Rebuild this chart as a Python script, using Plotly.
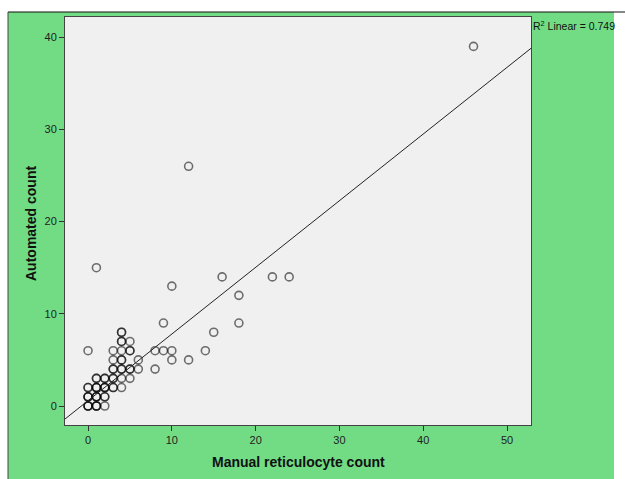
import plotly.graph_objects as go

# Data (duplicates reproduce the darker, overlapping circles)
manual_count = [
    0, 0, 0, 1, 1, 1, 2,
    0, 0, 0, 1, 1, 1, 2, 2,
    0, 0, 1, 1, 1, 2, 2, 2, 3, 3, 4,
    1, 1, 2, 2, 3, 3, 4, 5,
    3, 3, 4, 4, 5, 5, 6, 8,
    3, 4, 4, 6, 10, 12,
    0, 3, 4, 5, 5, 8, 9, 10, 14,
    4, 4, 5,
    4, 4, 15,
    9, 18,
    18,
    10,
    16, 22, 24,
    1,
    12,
    46,
]
automated_count = [
    0, 0, 0, 0, 0, 0, 0,
    1, 1, 1, 1, 1, 1, 1, 1,
    2, 2, 2, 2, 2, 2, 2, 2, 2, 2, 2,
    3, 3, 3, 3, 3, 3, 3, 3,
    4, 4, 4, 4, 4, 4, 4, 4,
    5, 5, 5, 5, 5, 5,
    6, 6, 6, 6, 6, 6, 6, 6, 6,
    7, 7, 7,
    8, 8, 8,
    9, 9,
    12,
    13,
    14, 14, 14,
    15,
    26,
    39,
]
fit_intercept = 0.578
fit_slope = 0.723
r_squared = 0.749

x_tick_vals = [0, 10, 20, 30, 40, 50]
y_tick_vals = [0, 10, 20, 30, 40]
x_range = [-2.75, 52.86]
y_range = [-2.06, 42.19]

fit_x = x_range
fit_y = [fit_intercept + fit_slope * v for v in fit_x]

green = "#71DC84"

fig = go.Figure()
fig.add_trace(go.Scatter(
    x=manual_count, y=automated_count, mode="markers",
    marker=dict(symbol="circle-open", size=8, color="black", opacity=0.55,
                line=dict(width=1.6, color="black")),
    showlegend=False, hoverinfo="x+y",
))
fig.add_trace(go.Scatter(
    x=fit_x, y=fit_y, mode="lines",
    line=dict(color="#222222", width=1), showlegend=False, hoverinfo="skip",
))

W, H = 625, 479
L, R, T, B = 65, 531, 17, 425

def px_x(p):
    return (p - L) / (R - L)

def px_y(p):
    return (B - p) / (B - T)

shapes = [
    # white surroundings outside the green panel
    dict(type="rect", xref="paper", yref="paper", x0=px_x(-20), x1=px_x(W + 20),
         y0=px_y(12), y1=px_y(-20), fillcolor="white", line=dict(width=0), layer="below"),
    dict(type="rect", xref="paper", yref="paper", x0=px_x(614), x1=px_x(W + 20),
         y0=px_y(12), y1=px_y(H + 20), fillcolor="white", line=dict(width=0), layer="below"),
    dict(type="rect", xref="paper", yref="paper", x0=px_x(-20), x1=px_x(8),
         y0=px_y(12), y1=px_y(H + 20), fillcolor="white", line=dict(width=0), layer="below"),
    # border lines of the panel
    dict(type="line", xref="paper", yref="paper", x0=px_x(8), x1=px_x(W),
         y0=px_y(12), y1=px_y(12), line=dict(color="#111111", width=1)),
    dict(type="line", xref="paper", yref="paper", x0=px_x(8), x1=px_x(8),
         y0=px_y(12), y1=px_y(H + 5), line=dict(color="#444444", width=1)),
]

fig.update_layout(
    width=W, height=H,
    margin=dict(l=L, r=W - R, t=T, b=H - B),
    paper_bgcolor=green, plot_bgcolor="#F0F0F0",
    font=dict(family="Arial, Liberation Sans, sans-serif", size=11, color="#222222"),
    shapes=shapes,
    xaxis=dict(range=x_range, tickvals=x_tick_vals, ticks="outside", ticklen=5,
               tickcolor="#333333", showgrid=False, zeroline=False, showline=True,
               linecolor="#444444", linewidth=1, mirror=True,
               tickfont=dict(size=11, color="#222222")),
    yaxis=dict(range=y_range, tickvals=y_tick_vals, ticks="outside", ticklen=5,
               tickcolor="#333333", showgrid=False, zeroline=False, showline=True,
               linecolor="#444444", linewidth=1, mirror=True,
               tickfont=dict(size=11, color="#222222")),
    annotations=[
        dict(text="<b>Manual reticulocyte count</b>", xref="paper", yref="paper",
             x=0.5, y=px_y(462), xanchor="center", yanchor="middle", showarrow=False,
             font=dict(size=14, color="#111111")),
        dict(text="<b>Automated count</b>", xref="paper", yref="paper",
             x=px_x(31), y=px_y(224), xanchor="center", yanchor="middle", showarrow=False,
             textangle=-90, font=dict(size=14, color="#111111")),
        dict(text=f"R<sup>2</sup> Linear = {r_squared}", xref="paper", yref="paper",
             x=px_x(531), y=px_y(25), xanchor="left", yanchor="middle", showarrow=False,
             font=dict(size=10.5, color="#111111")),
    ],
)

fig.write_html(
    "out.html",
    config={"displayModeBar": False},
    post_script="document.body.style.margin='0';document.body.style.overflow='hidden';",
)
